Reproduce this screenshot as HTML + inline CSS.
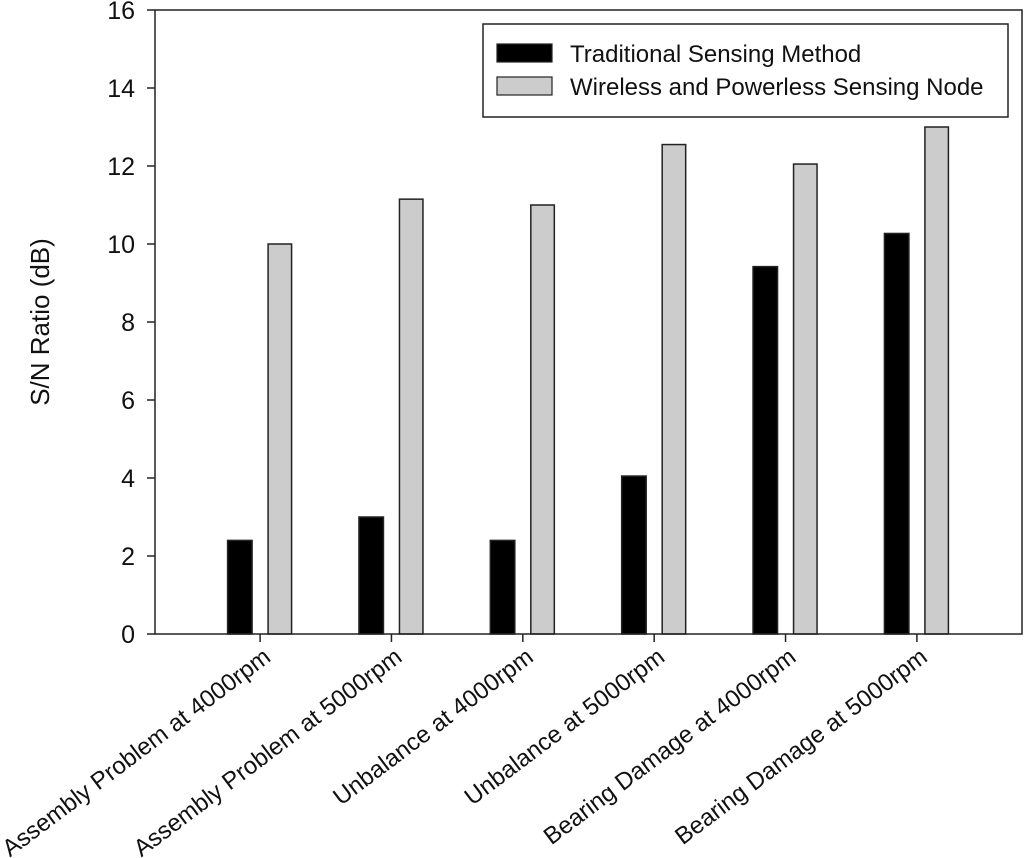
<!DOCTYPE html>
<html><head><meta charset="utf-8"><style>
body{margin:0;background:#fff;}
svg{display:block;font-family:"Liberation Sans",Arial,sans-serif;}
</style></head><body>
<svg id="chart" width="1024" height="858" viewBox="0 0 1024 858"></svg>
<script>
const categories=["Assembly Problem at 4000rpm","Assembly Problem at 5000rpm","Unbalance at 4000rpm","Unbalance at 5000rpm","Bearing Damage at 4000rpm","Bearing Damage at 5000rpm"];
const traditional=[2.4,3.0,2.4,4.05,9.42,10.27];
const wireless=[10.0,11.15,11.0,12.55,12.05,13.0];
const yTicks=[0,2,4,6,8,10,12,14,16];
const seriesNames=["Traditional Sensing Method","Wireless and Powerless Sensing Node"];

const L=155,R=1022,T=10,B=634,ymax=16;
const y=v=>B-(v/ymax)*(B-T);
const step=(R-L)/(categories.length+0.6);
const xc=i=>L+step*0.8+i*step;
const svg=document.getElementById('chart');
const NS='http://www.w3.org/2000/svg';
function mk(tag,attrs,parent){const e=document.createElementNS(NS,tag);for(const k in attrs)e.setAttribute(k,attrs[k]);(parent||svg).appendChild(e);return e;}

categories.forEach((c,i)=>{
  const b1=mk('rect',{x:xc(i)-32.5,y:y(traditional[i]),width:24.5,height:B-y(traditional[i]),fill:'#000',stroke:'#222','stroke-width':1.5});
  
  
  const b2=mk('rect',{x:xc(i)+8,y:y(wireless[i]),width:23.5,height:B-y(wireless[i]),fill:'#cccccc',stroke:'#222','stroke-width':1.5});
  
  
  const t=mk('line',{x1:xc(i),x2:xc(i),y1:B,y2:B+8,stroke:'#222','stroke-width':1.5});
  
  
  const lx=xc(i)+12, ly=B+26;
  const lab=mk('text',{x:lx,y:ly,'font-size':24,'text-anchor':'end',fill:'#111',transform:`rotate(-37 ${lx} ${ly})`});
  lab.textContent=c;
  
  
});
const fr=mk('rect',{x:L,y:T,width:R-L,height:B-T,fill:'none',stroke:'#222','stroke-width':1.5});


yTicks.forEach(v=>{
  const t=mk('line',{x1:L-8,x2:L,y1:y(v),y2:y(v),stroke:'#222','stroke-width':1.5});
  
  
  const tx=mk('text',{x:L-20,y:y(v)+9,'font-size':25,'text-anchor':'end',fill:'#111'});
  tx.textContent=v;
  
  
});
const yt=mk('text',{x:49,y:322,'font-size':26,'text-anchor':'middle',fill:'#111',transform:'rotate(-90 49 322)'});
yt.textContent='S/N Ratio (dB)';


const lg=mk('g',{});


mk('rect',{x:483,y:24,width:525,height:93,fill:'#fff',stroke:'#222','stroke-width':1.5},lg);
const sw=['#000','#cccccc'];
seriesNames.forEach((n,i)=>{
  const e=mk('g',{},lg);
  
  
  mk('rect',{x:497,y:44+i*33,width:55,height:18,fill:sw[i],stroke:'#222','stroke-width':1.2},e);
  const t=mk('text',{x:570,y:62+i*33,'font-size':24,fill:'#111'},e);
  t.textContent=n;
});
</script>
</body></html>
